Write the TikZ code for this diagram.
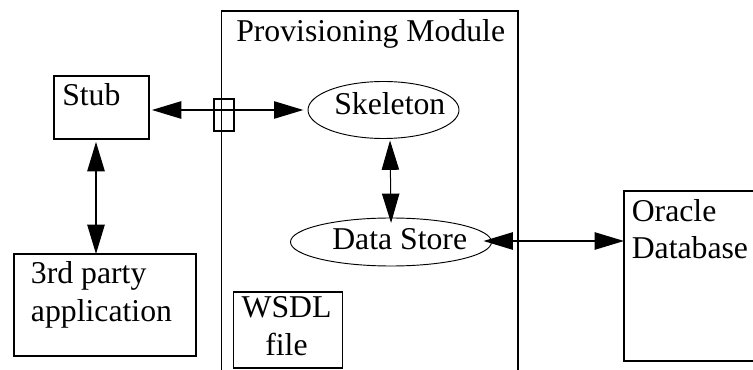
\documentclass[tikz,border=0pt]{standalone}
\usepackage{fontspec}
\setmainfont{Liberation Serif}
\usetikzlibrary{arrows.meta,shapes.geometric,calc}
\tikzset{
  boxed/.style={draw,line width=1.4pt,rectangle,inner sep=0pt,outer sep=0pt},
  oval/.style={draw,line width=0.7pt,ellipse,inner sep=0pt,outer sep=0pt},
  lbl/.style={inner sep=0pt,font=\fontsize{23.8}{28}\selectfont,align=center},
  dbl/.style={line width=1.1pt,{Triangle[length=22pt,width=13pt]}-{Triangle[length=22pt,width=13pt]}},
}
\begin{document}
\begin{tikzpicture}[x=0.75pt,y=-0.75pt]
\useasboundingbox (0,0) rectangle (753,370);
% Provisioning module (runs off the bottom of the picture)
\coordinate (pbl) at (221.5,370);
\coordinate (ptl) at (221.5,11);
\coordinate (ptr) at (518,11);
\coordinate (pbr) at (518,370);
\draw[line width=1.4pt] (pbl) -- (ptl) -- (ptr) -- (pbr);
\node[lbl,anchor=base west] (ptext) at (236,42) {Provisioning Module};
% Oracle box (cut off by the right edge of the picture)
\coordinate (otr) at (753,191);
\coordinate (otl) at (624,191);
\coordinate (obl) at (624,361);
\coordinate (obr) at (753,361);
\coordinate (owest) at (624,241);
\draw[line width=1.4pt] (otr) -- (otl) -- (obl) -- (obr);
\node[lbl,anchor=base west,align=left] (otext) at (631.5,259) {Oracle\\Database};
% Stub
\node[boxed,minimum width=95*0.75pt,minimum height=63*0.75pt,anchor=north west] (stub) at (54,76) {};
\node[lbl,anchor=base west] (stext) at (62,106) {Stub};
% 3rd party
\node[boxed,minimum width=182*0.75pt,minimum height=102*0.75pt,anchor=north west] (third) at (14,254) {};
\node[lbl,anchor=base west,align=left] (ttext) at (30.7,321) {3rd party\\application};
% WSDL
\node[boxed,minimum width=109*0.75pt,minimum height=76*0.75pt,anchor=north west] (wsdl) at (233.5,292) {};
\node[lbl,anchor=base] (wtext) at (286.5,355) {WSDL\\file};
% small port
\node[boxed,line width=1.1pt,minimum width=20*0.75pt,minimum height=32*0.75pt] (port) at (224,115) {};
% ellipses
\node[oval,minimum width=151*0.75pt,minimum height=57*0.75pt] (skel) at (383.5,110) {};
\node[lbl,anchor=base west] (sktext) at (334,115) {Skeleton};
\node[oval,minimum width=201*0.75pt,minimum height=48*0.75pt] (store) at (391,242) {};
\node[lbl,anchor=base west] (dstext) at (332,250) {Data Store};
% connectors
\draw[dbl,shorten <=2.2pt,shorten >=3.5pt] (stub.east |- skel.west) -- (skel.west);
\draw[dbl,shorten <=2.2pt] (stub.south -| 96,0) -- (third.north -| 96,0);
\draw[dbl,line width=0.75pt,shorten <=1.5pt,shorten >=-3.7pt] (skel.south -| 390,0) -- (store.north -| 391,0);
\draw[dbl,shorten <=-6pt] (store.east |- owest) -- (owest);
\end{tikzpicture}
\end{document}
